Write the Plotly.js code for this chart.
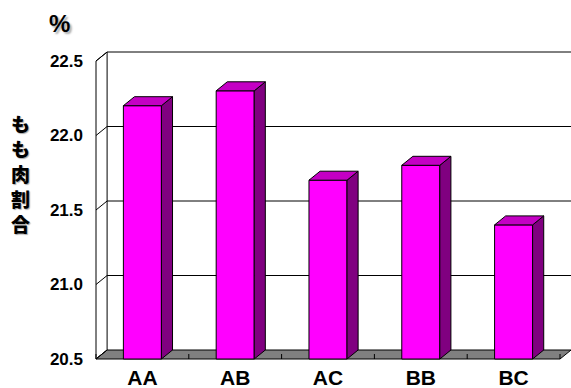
<!DOCTYPE html>
<html><head><meta charset="utf-8">
<script src="https://cdn.plot.ly/plotly-3.0.1.min.js"></script>
<style>html,body{margin:0;padding:0;background:#fff;} #chart{width:571px;height:388px;}</style>
</head><body><div id="chart"></div>
<script>
// ---- data ----
const categories = ['AA', 'AB', 'AC', 'BB', 'BC'];
const values = [22.2, 22.3, 21.7, 21.8, 21.4];
const yTickValues = [20.5, 21.0, 21.5, 22.0, 22.5];
const yTickLabels = ['20.5', '21.0', '21.5', '22.0', '22.5'];
const yTitleText = 'もも肉割合';
const unitText = '%';

// ---- geometry (styles, not data) ----
const BASE = yTickValues[0], TOP = yTickValues[yTickValues.length - 1];
const PXY = 149;           // px per unit on y
const PXX = 92.8;          // px per category on x
const DX = 11.1 / PXX;     // depth offset in x units
const DY = 9 / PXY;        // depth offset in y units
const BW = 0.41;
const X0 = -0.5, X1 = categories.length - 0.5;
const xs = categories.map((c, i) => i);

// bars: front face
const front = {
  type: 'bar', x: xs, y: values.map(v => v - BASE), base: BASE, width: BW,
  marker: {color: '#FF00FF', line: {color: '#000', width: 1}},
  hoverinfo: 'skip', showlegend: false
};
// top and side faces
const topX = [], topY = [], sideX = [], sideY = [];
xs.forEach((x, i) => {
  const v = values[i], l = x - BW / 2, r = x + BW / 2;
  topX.push(l, r, r + DX, l + DX, l, null);
  topY.push(v, v, v + DY, v + DY, v, null);
  sideX.push(r, r + DX, r + DX, r, r, null);
  sideY.push(BASE, BASE + DY, v + DY, v, BASE, null);
});
const topFace = {type: 'scatter', mode: 'lines', x: topX, y: topY, fill: 'toself',
  fillcolor: '#C400C4', line: {color: '#000', width: 1}, hoverinfo: 'skip', showlegend: false};
const sideFace = {type: 'scatter', mode: 'lines', x: sideX, y: sideY, fill: 'toself',
  fillcolor: '#800080', line: {color: '#000', width: 1}, hoverinfo: 'skip', showlegend: false};

// walls / floor as shapes below traces
const shapes = [];
const blk = {color: '#000', width: 1};
shapes.push({type: 'path', layer: 'below', xref: 'x', yref: 'y',
  path: `M${X0},${BASE} L${X0},${TOP} L${X0 + DX},${TOP + DY} L${X0 + DX},${BASE + DY} Z`,
  fillcolor: '#fff', line: blk});
shapes.push({type: 'path', layer: 'below', xref: 'x', yref: 'y',
  path: `M${X0},${BASE} L${X1},${BASE} L${X1 + DX},${BASE + DY} L${X0 + DX},${BASE + DY} Z`,
  fillcolor: '#808080', line: blk});
yTickValues.forEach((v, k) => {
  if (k > 0) shapes.push({type: 'line', layer: 'below', xref: 'x', yref: 'y',
    x0: X0 + DX, x1: X1 + DX + 0.05, y0: v + DY, y1: v + DY, line: blk});
  shapes.push({type: 'line', layer: 'below', xref: 'x', yref: 'y',
    x0: X0, x1: X0 + DX, y0: v, y1: v + DY, line: blk});
});
for (let i = 0; i <= categories.length; i++) {
  shapes.push({type: 'line', layer: 'below', xref: 'x', yref: 'y',
    x0: X0 + i, x1: X0 + i, y0: BASE, y1: BASE + 5 / PXY, line: blk});
}

const L = 94, R = 0, T = 50, B = 27, W = 571, H = 388;
const plotW = W - L - R, plotH = H - T - B;
const xMin = X0 - (96 - L) / PXX, xMax = xMin + plotW / PXX;
const yMin = BASE - (H - B - 359) / PXY, yMax = yMin + plotH / PXY;

// vertical (stacked) y-axis title: one annotation per character
const titleChars = yTitleText.split('');
const titleCenter = 173, titleStep = 25;
const titleAnns = titleChars.map((ch, i) => ({
  text: ch, xref: 'paper', yref: 'paper',
  x: (20 - L) / plotW,
  y: (H - B - (titleCenter + (i - (titleChars.length - 1) / 2) * titleStep)) / plotH,
  xanchor: 'center', yanchor: 'middle', showarrow: false, borderpad: 0,
  font: {family: 'Noto Sans CJK JP', size: 19, color: '#000', weight: 900, shadow: '1px 1px 1px #aaa'}
}));

const layout = {
  width: W, height: H, margin: {l: L, r: R, t: T, b: B},
  paper_bgcolor: '#fff', plot_bgcolor: 'rgba(0,0,0,0)',
  showlegend: false, bargap: 0,
  xaxis: {range: [xMin, xMax], tickvals: xs, ticktext: categories, showgrid: false,
    zeroline: false, showline: false, ticks: '', ticklabelstandoff: 2,
    tickfont: {family: 'Liberation Sans, Arial, sans-serif', size: 21, color: '#000', weight: 700}},
  yaxis: {range: [yMin, yMax], tickvals: yTickValues, ticktext: yTickLabels, showgrid: false,
    zeroline: false, showline: false, ticks: '', ticklabelstandoff: 10,
    tickfont: {family: 'Liberation Sans, Arial, sans-serif', size: 17, color: '#000', weight: 700}},
  shapes: shapes,
  annotations: titleAnns.concat([
    {text: unitText, xref: 'paper', yref: 'paper',
      x: (59 - L) / plotW, y: (H - B - 24) / plotH, xanchor: 'center', yanchor: 'middle',
      showarrow: false,
      font: {family: 'Liberation Sans, Arial, sans-serif', size: 24, color: '#000', weight: 700, shadow: '2px 2px 2px #aaa'}}
  ])
};

Plotly.newPlot('chart', [front, sideFace, topFace], layout, {displayModeBar: false, staticPlot: true});
</script>
</body></html>
